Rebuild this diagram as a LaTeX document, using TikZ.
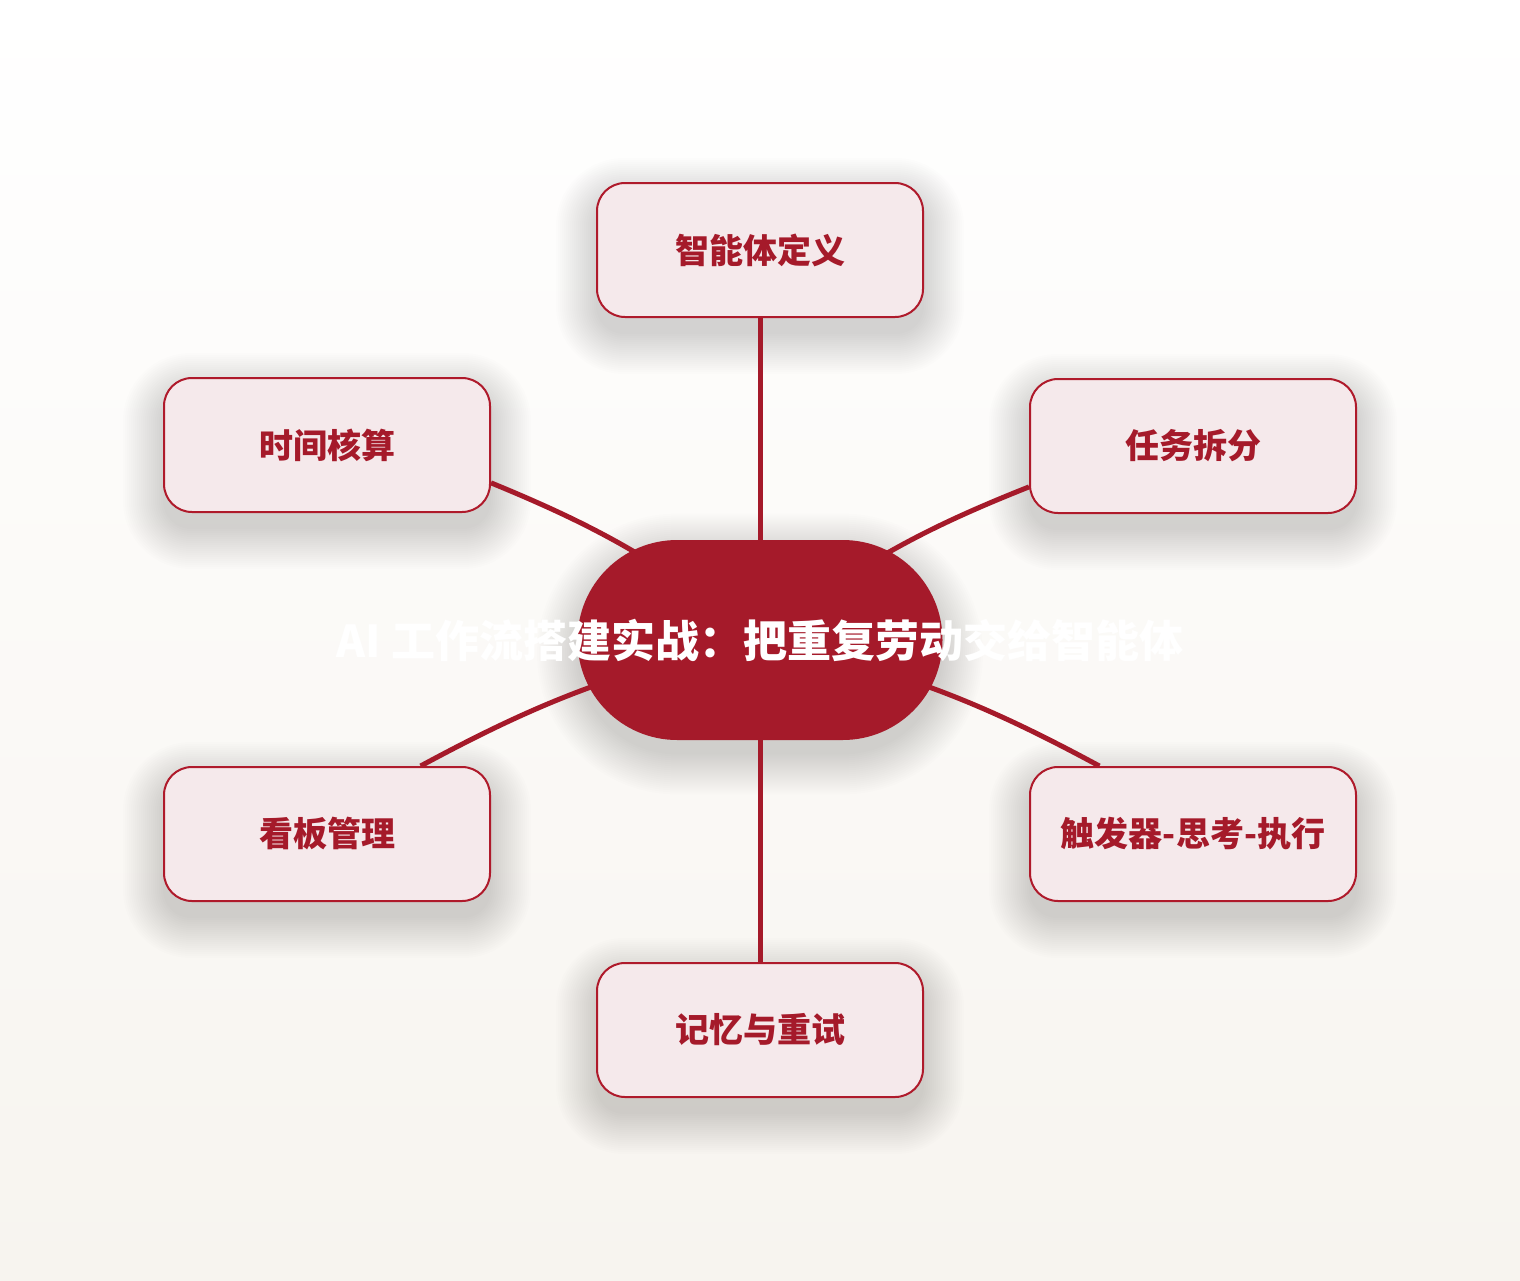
\documentclass[tikz,border=0pt]{standalone}
\usepackage{fontspec}
\newfontfamily\cjk{Noto Sans CJK SC}
\usepackage{tikz}
\usetikzlibrary{positioning, calc}
\definecolor{deepred}{HTML}{A51A2A}
\definecolor{rim}{HTML}{AF1A2B}
\definecolor{blush}{HTML}{F5E9EB}
\definecolor{paper}{HTML}{F7F4EF}
\pgfdeclarelayer{back}
\pgfdeclarelayer{links}
\pgfsetlayers{back,links,main}

\begin{document}
\begin{tikzpicture}[x=0.5pt,y=-0.5pt,
            topic/.style={draw=rim,line width=1pt,fill=blush,rounded corners=14pt,
              minimum width=163pt,minimum height=67pt,text=deepred,
              font=\cjk\bfseries\fontsize{17}{20}\selectfont},
            hub/.style={fill=deepred,rounded corners=49.9pt,minimum width=182.5pt,minimum height=100pt,
              text=white,font=\cjk\bfseries\fontsize{22}{26}\selectfont},
            glow/.style={fill=black,opacity=0.008},
            link/.style={draw=deepred,line width=2.5pt}]
            \useasboundingbox (0,0) rectangle (1520,1280);

            \node[hub] (hub) at (760,640) {\makebox[0pt]{AI 工作流搭建实战：把重复劳动交给智能体}};
            \node[topic] (define)  at (760,250)  {智能体定义};
            \node[topic] (split)   at (1193,446) {任务拆分};
            \node[topic] (trigger) at (1193,834) {触发器-思考-执行};
            \node[topic] (memory)  at (760,1030) {记忆与重试};
            \node[topic] (board)   at (327,834)  {看板管理};
            \node[topic] (timing)  at (327,445)  {时间核算};

            \begin{pgfonlayer}{back}
            \fill[top color=white,bottom color=paper] (0,0) rectangle (1520,1280);
            % soft shadows
            \foreach \r in {0,2,...,40} {
              \pgfmathsetmacro\rc{(100+\r)*0.5-0.1}
              \pgfmathsetmacro\rt{14+\r*0.5}
              \fill[glow,rounded corners=\rc pt] ($(hub.south west)+(-\r,\r+14)$) rectangle ($(hub.north east)+(\r,-\r+14)$);
              \foreach \n in {define,split,trigger,memory,board,timing}
                \fill[glow,rounded corners=\rt pt] ($(\n.south west)+(-\r,\r+16)$) rectangle ($(\n.north east)+(\r,-\r+16)$);
            }
            \end{pgfonlayer}

            \begin{pgfonlayer}{links}
            \path (hub.center) edge [link]             (define)
            (hub.center) edge [link,bend left=8]  (split.194)
            (hub.center) edge [link,bend left=8]  (trigger.144)
            (hub.center) edge [link]              (memory)
            (hub.center) edge [link,bend right=8] (board.36)
            (hub.center) edge [link,bend right=8] (timing.-13.5);
            \end{pgfonlayer}
            \end{tikzpicture}
\end{document}
